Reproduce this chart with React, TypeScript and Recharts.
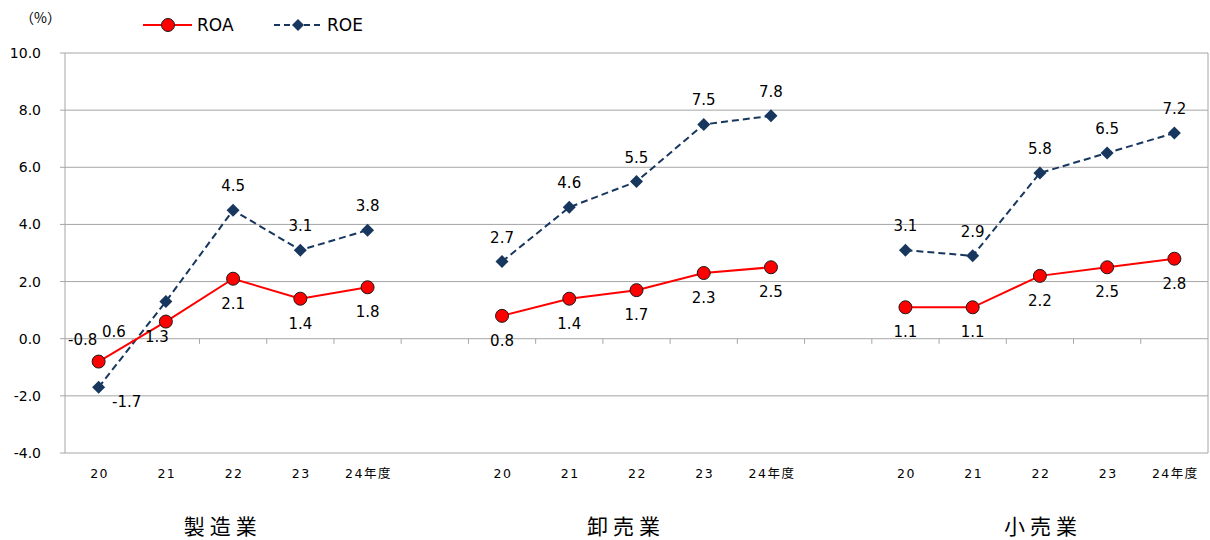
import * as React from 'react';
import {
  CartesianGrid,
  LabelList,
  Line,
  LineChart,
  ReferenceLine,
  XAxis,
  YAxis,
} from 'recharts';

// data
const industries = ['製造業', '卸売業', '小売業'];
const years = ['20', '21', '22', '23', '24年度'];
const roaValues = [
  [-0.8, 0.6, 2.1, 1.4, 1.8],
  [0.8, 1.4, 1.7, 2.3, 2.5],
  [1.1, 1.1, 2.2, 2.5, 2.8],
];
const roeValues = [
  [-1.7, 1.3, 4.5, 3.1, 3.8],
  [2.7, 4.6, 5.5, 7.5, 7.8],
  [3.1, 2.9, 5.8, 6.5, 7.2],
];
const yTicks = [-4, -2, 0, 2, 4, 6, 8, 10];

// one row per year, an empty slot between industries
const rows: any[] = [];
industries.forEach((ind, g) => {
  years.forEach((yr, i) => {
    rows.push({ key: `${g}-${i}`, label: yr, roa: roaValues[g][i], roe: roeValues[g][i] });
  });
  if (g < industries.length - 1) rows.push({ key: `gap-${g}`, label: '', roa: null, roe: null });
});
rows.forEach((r, i) => (r.slot = i + 0.5));

// where the industry names sit on the 0..17 slot scale
const groupTicks = [2.3, 8.3, 14.5];
const slotBoundaries = Array.from({ length: 16 }, (_, k) => k + 1);

const GRID = '#a6a6a6';
const RED = '#ff0000';
const NAVY = '#17375e';
const FONT = '"DejaVu Sans", Verdana, sans-serif';

// label nudges for the crowded first points, [dx, dy] from the marker
const roaNudge: Record<number, [number, number]> = { 0: [-16, -22], 1: [-52, 10] };
const roeNudge: Record<number, [number, number]> = { 0: [28, 15], 1: [-9, 35] };

const makeLabel = (nudge: Record<number, [number, number]>, defDy: number) => (props: any) => {
  const { x, y, value, index } = props;
  if (value === null || value === undefined) return null;
  const [dx, dy] = nudge[index] ?? [0, defDy];
  return (
    <text
      x={x + dx}
      y={y + dy}
      textAnchor='middle'
      dominantBaseline='central'
      fontSize={15}
      fontFamily={FONT}
      fill='#000'
    >
      {Number(value).toFixed(1)}
    </text>
  );
};

const RoaDot = (props: any) => {
  const { cx, cy, value } = props;
  if (value === null || value === undefined || cx == null) return null;
  return <circle cx={cx} cy={cy} r={6.5} fill={RED} stroke='#1a1a1a' strokeWidth={1} />;
};

const RoeDot = (props: any) => {
  const { cx, cy, value } = props;
  if (value === null || value === undefined || cx == null) return null;
  const s = 6.5;
  return (
    <polygon
      points={`${cx},${cy - s} ${cx + s},${cy} ${cx},${cy + s} ${cx - s},${cy}`}
      fill={NAVY}
    />
  );
};

const YearTick = (props: any) => {
  const { x, y, index } = props;
  return (
    <text
      x={x + 1}
      y={y + 17}
      textAnchor='middle'
      fontSize={12.5}
      letterSpacing={1.5}
      fontFamily='"DejaVu Sans", "Noto Sans CJK JP", sans-serif'
      fill='#000'
    >
      {rows[index]?.label}
    </text>
  );
};

const GroupTick = (props: any) => {
  const { x, y, index } = props;
  return (
    <text
      x={x + 3}
      y={y + 38}
      textAnchor='middle'
      fontSize={21}
      letterSpacing={5}
      fontFamily='"Noto Sans CJK JP", sans-serif'
      fill='#000'
    >
      {industries[index]}
    </text>
  );
};

function LegendOverlay() {
  return (
    <svg width={420} height={45} style={{ position: 'absolute', left: 0, top: 0 }}>
      <text x={20} y={23} fontSize={14} fontFamily='"Noto Sans CJK JP", sans-serif'>
        （%）
      </text>
      <line x1={143} x2={192} y1={25} y2={25} stroke={RED} strokeWidth={2} />
      <circle cx={168} cy={25} r={6.5} fill={RED} stroke='#1a1a1a' strokeWidth={1} />
      <text x={197} y={31} fontSize={17} fontFamily={FONT}>
        ROA
      </text>
      <line x1={274} x2={323} y1={25} y2={25} stroke={NAVY} strokeWidth={2} strokeDasharray='6 4' />
      <polygon points='298,19 304,25 298,31 292,25' fill={NAVY} />
      <text x={327} y={31} fontSize={17} fontFamily={FONT}>
        ROE
      </text>
    </svg>
  );
}

export default function App() {
  return (
    <div style={{ position: 'absolute', left: 0, top: 0, width: 1210, height: 540, background: '#fff' }}>
      <LineChart
        width={1210}
        height={540}
        data={rows}
        margin={{ top: 53, right: 2, left: 0, bottom: 0 }}
      >
        <CartesianGrid vertical={false} stroke={GRID} />
        <XAxis
          dataKey='key'
          type='category'
          scale='band'
          height={35}
          axisLine={false}
          tickLine={false}
          interval={0}
          tick={<YearTick />}
        />
        <XAxis
          xAxisId='grp'
          dataKey='slot'
          type='number'
          domain={[0, 17]}
          ticks={groupTicks}
          height={52}
          axisLine={false}
          tickLine={false}
          tick={<GroupTick />}
          allowDataOverflow
        />
        <YAxis
          domain={[-4, 10]}
          ticks={yTicks}
          width={65}
          interval={0}
          axisLine={{ stroke: GRID }}
          tickLine={{ stroke: GRID }}
          tickSize={5}
          tickMargin={19}
          tickFormatter={(v: number) => v.toFixed(1)}
          tick={{ fontSize: 14, fontFamily: FONT, fill: '#000' }}
        />
        {slotBoundaries.map(k => (
          <ReferenceLine
            key={`tick-${k}`}
            xAxisId='grp'
            segment={[
              { x: k, y: 0 },
              { x: k, y: -0.18 },
            ]}
            stroke={GRID}
          />
        ))}
        <ReferenceLine xAxisId='grp' x={17} stroke={GRID} />
        <Line
          type='linear'
          dataKey='roe'
          stroke={NAVY}
          strokeWidth={2}
          strokeDasharray='7 4'
          dot={<RoeDot />}
          activeDot={false}
          connectNulls={false}
          isAnimationActive={false}
        >
          <LabelList dataKey='roe' content={makeLabel(roeNudge, -24)} />
        </Line>
        <Line
          type='linear'
          dataKey='roa'
          stroke={RED}
          strokeWidth={2}
          dot={<RoaDot />}
          activeDot={false}
          connectNulls={false}
          isAnimationActive={false}
        >
          <LabelList dataKey='roa' content={makeLabel(roaNudge, 25)} />
        </Line>
      </LineChart>
      <LegendOverlay />
    </div>
  );
}
